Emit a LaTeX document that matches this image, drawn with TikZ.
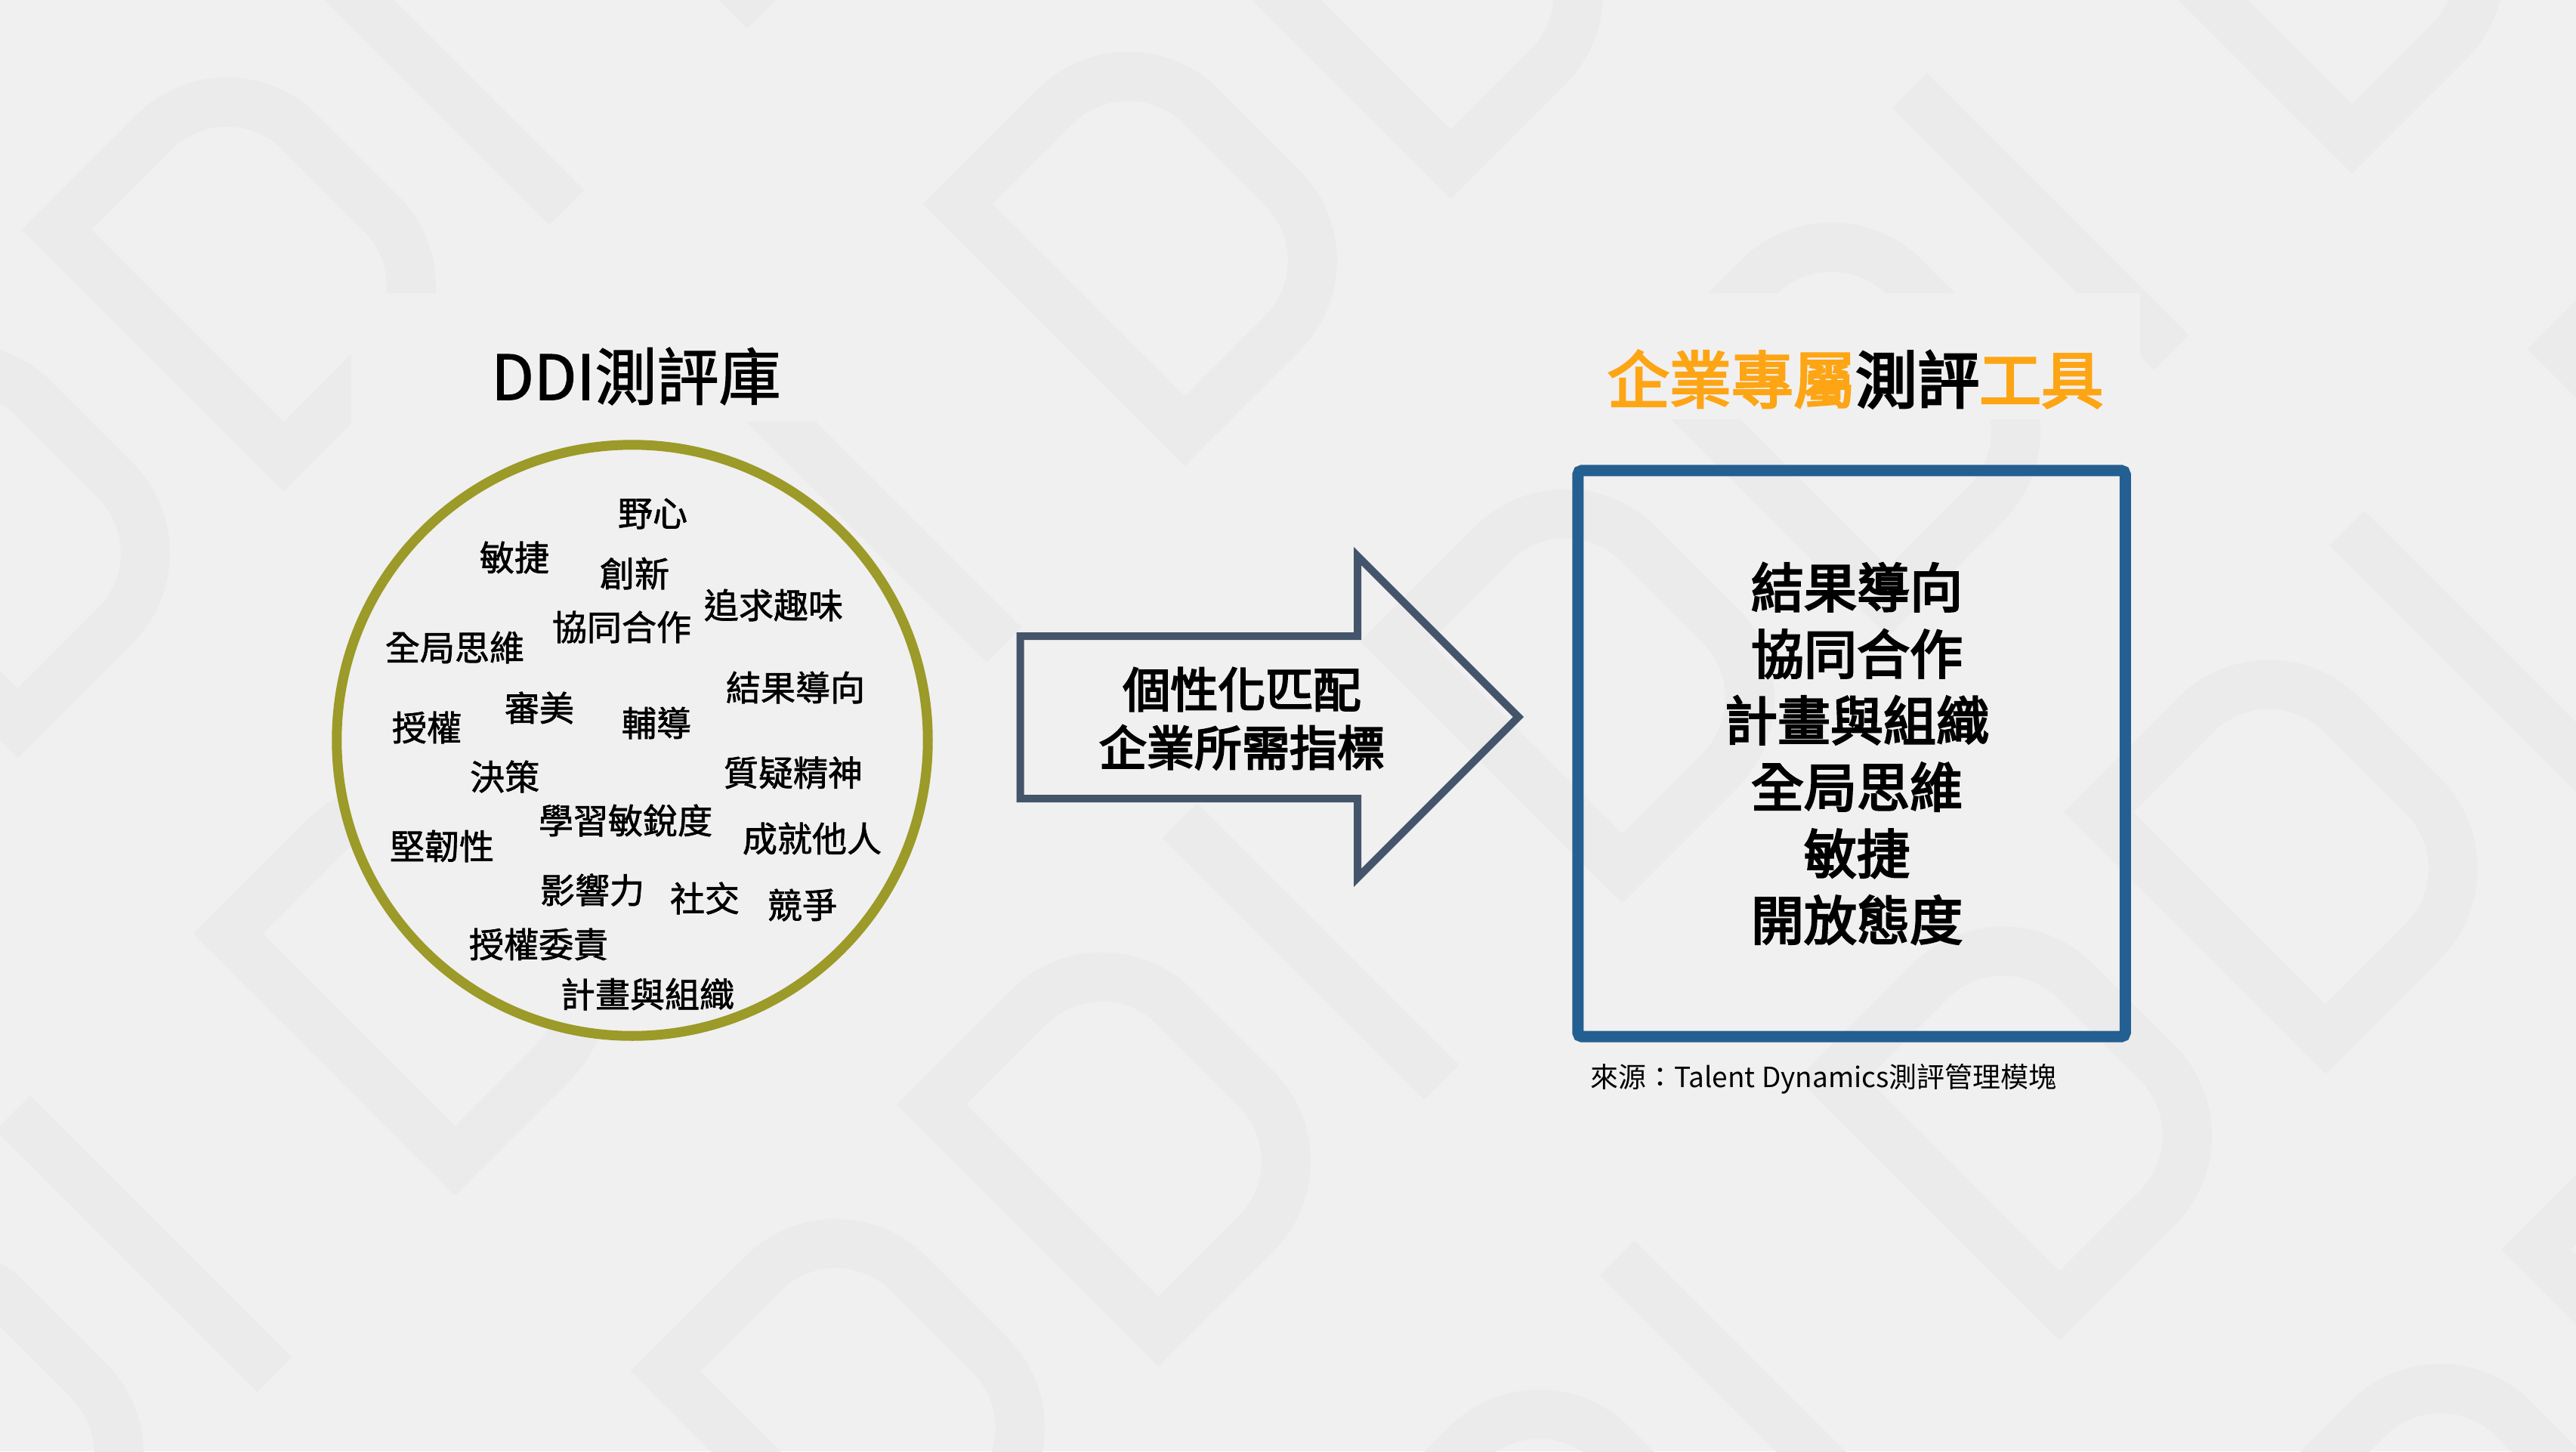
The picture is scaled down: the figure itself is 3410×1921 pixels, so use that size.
\documentclass[tikz,border=0pt]{standalone}
\usepackage{fontspec}
\setmainfont{Noto Sans CJK TC}
\newfontfamily\medfont{Noto Sans CJK TC}[FakeBold=1.5]
\newfontfamily\semifont{Noto Sans CJK TC}[FakeBold=3.5]
\definecolor{bgc}{HTML}{F0F0F0}
\definecolor{motifc}{HTML}{EBEBEB}
\definecolor{olive}{HTML}{9C9A28}
\definecolor{slate}{HTML}{44546A}
\definecolor{tblue}{HTML}{245F91}
\definecolor{torange}{HTML}{FDA514}
\begin{document}
\begin{tikzpicture}[x=0.01cm,y=-0.01cm,
  motif/.style={draw=motifc,line width=18.5pt},
  word/.style={inner sep=0pt,font=\medfont\fontsize{13.09pt}{15pt}\selectfont},
  titlefont/.style={inner sep=0pt,font=\medfont\fontsize{23.33pt}{28pt}\selectfont},
  rot/.style={x={(0.0070711cm,0.0070711cm)},y={(0.0070711cm,-0.0070711cm)}}]
\useasboundingbox (0,0) rectangle (3410,1921);
\begin{scope}
\clip (0,0) rectangle (3410,1921);
\fill[bgc] (0,0) rectangle (3410,1921);
% faint DDI watermark pattern
\foreach \i in {-1,...,5}{
  \foreach \k in {-2,...,3}{
    \pgfmathsetmacro{\gx}{-323+579*\i+966*\k}
    \pgfmathsetmacro{\gy}{657+579*\i-966*\k}
    \begin{scope}[shift={(\gx,\gy)},rot]
      \draw[motif] (32.5,32.5) -- (215,32.5) arc[start angle=-90,end angle=0,radius=136.5]
        -- (351.5,321) arc[start angle=0,end angle=90,radius=136.5] -- (32.5,457.5) -- cycle;
    \end{scope}
    \begin{scope}[shift={(\gx+352,\gy-353)},rot]
      \draw[motif] (32.5,32.5) -- (215,32.5) arc[start angle=-90,end angle=0,radius=136.5]
        -- (351.5,321) arc[start angle=0,end angle=90,radius=136.5] -- (32.5,457.5) -- cycle;
    \end{scope}
    \begin{scope}[shift={(\gx+704,\gy-706)},rot]
      \draw[motif] (32.5,0) -- (32.5,490);
    \end{scope}
  }
}
\fill[bgc] (465,388) rectangle (1219,558);
\fill[bgc] (2079,388) rectangle (2833,555);
\end{scope}

% titles
\node[titlefont] (ltitle) at (842,498) {DDI測評庫};
\node[inner sep=0pt,font=\semifont\fontsize{23.33pt}{28pt}\selectfont] (rtitle) at (2456,502)
  {\textcolor{torange}{企業專屬}測評\textcolor{torange}{工具}};

% competency pool
\node[circle,draw=olive,fill=bgc,line width=3.7pt,minimum size=7.82cm,inner sep=0pt] (pool) at (837,980) {};
\node[word] (w1) at (864,680) {野心};
\node[word] (w2) at (681,738) {敏捷};
\node[word] (w3) at (840,759) {創新};
\node[word] (w4) at (1024,801) {追求趣味};
\node[word] (w5) at (823,830) {協同合作};
\node[word] (w6) at (602,857) {全局思維};
\node[word] (w7) at (1053,910) {結果導向};
\node[word] (w8) at (714,937) {審美};
\node[word] (w9) at (869,957) {輔導};
\node[word] (w10) at (565,963) {授權};
\node[word] (w11) at (668,1028) {決策};
\node[word] (w12) at (1050,1023) {質疑精神};
\node[word] (w13) at (828,1086) {學習敏銳度};
\node[word] (w14) at (1075,1110) {成就他人};
\node[word] (w15) at (585,1120) {堅韌性};
\node[word] (w16) at (784,1178) {影響力};
\node[word] (w17) at (933,1189) {社交};
\node[word] (w18) at (1062,1198) {競爭};
\node[word] (w19) at (713,1250) {授權委責};
\node[word] (w20) at (857,1316) {計畫與組織};

% block arrow
\draw[draw=slate,line width=2.85pt,line join=miter]
  (1350.5,842) -- (1797,842) -- (1797,736) -- (2010,949) -- (1797,1162) -- (1797,1057) -- (1350.5,1057) -- cycle;
\node[inner sep=0pt,align=center,font=\semifont\fontsize{17.93pt}{21.9pt}\selectfont] (match) at (1644,951)
  {個性化匹配\\企業所需指標};

% tool box
\node[draw=tblue,line width=4.27pt,rounded corners=1.5pt,minimum width=7.24cm,minimum height=7.49cm,inner sep=0pt] (tool) at (2451,997.5) {};
\node[inner sep=0pt,align=center,font=\semifont\fontsize{19.92pt}{25.04pt}\selectfont] (toollist) at (2458,997.5)
  {結果導向\\協同合作\\計畫與組織\\全局思維\\敏捷\\開放態度};

% source
\node[anchor=west,inner sep=0pt,font=\fontsize{10.5pt}{12pt}\selectfont] (src) at (2105,1428)
  {來源：Talent Dynamics測評管理模塊};
\end{tikzpicture}
\end{document}
